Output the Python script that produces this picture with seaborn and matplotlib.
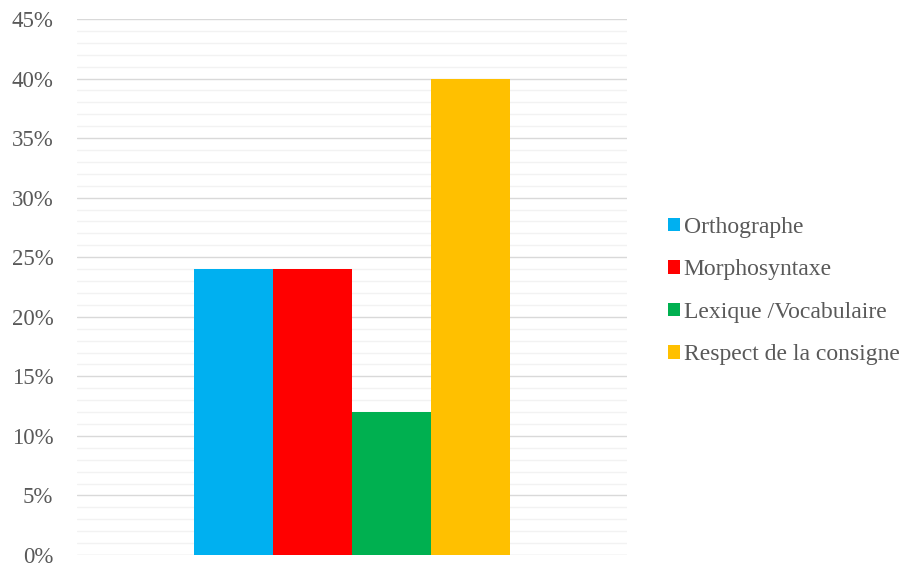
import matplotlib
matplotlib.use("Agg")
import matplotlib.pyplot as plt
import seaborn as sns
import pandas as pd
from matplotlib.ticker import MultipleLocator, PercentFormatter
from matplotlib.patches import Patch

series = ["Orthographe", "Morphosyntaxe", "Lexique /Vocabulaire", "Respect de la consigne"]
values = [0.24, 0.24, 0.12, 0.40]
colors = ["#00B0F0", "#FF0000", "#00B050", "#FFC000"]
category = ["Total"]

df = pd.DataFrame({"cat": category * len(series), "serie": series, "val": values})

sns.set_theme(style="white")
plt.rcParams["font.family"] = ["Liberation Serif", "DejaVu Serif"]

fig = plt.figure(figsize=(9.06, 5.65), dpi=100)
ax = fig.add_axes([77/906, 1 - 555/565, 550/906, 536/565])

sns.barplot(data=df, x="cat", y="val", hue="serie", palette=colors,
            hue_order=series, width=0.573, gap=0, ax=ax, legend=False,
            saturation=1, edgecolor="none", linewidth=0)

ax.set_xlim(-0.5, 0.5)
ax.set_ylim(0, 0.45)
ax.yaxis.set_major_locator(MultipleLocator(0.05))
ax.yaxis.set_minor_locator(MultipleLocator(0.01))
ax.yaxis.set_major_formatter(PercentFormatter(1.0, decimals=0))
ax.grid(True, which="major", axis="y", color="#d9d9d9", linewidth=1.0)
ax.grid(True, which="minor", axis="y", color="#f2f2f2", linewidth=1.0)
ax.set_axisbelow(True)
for s in ax.spines.values():
    s.set_visible(False)
ax.set_xticks([])
ax.set_xlabel("")
ax.set_ylabel("")
ax.tick_params(axis="y", which="both", length=0, labelsize=16.5, labelcolor="#595959", pad=17)

handles = [Patch(facecolor=c, edgecolor="none") for c in colors]
leg = fig.legend(handles, series, loc="center left", bbox_to_anchor=(656/906, 1 - 291/565),
                 frameon=False, fontsize=17, handlelength=0.5, handleheight=0.5,
                 handletextpad=0.17, labelspacing=0.91, borderpad=0)
for t in leg.get_texts():
    t.set_color("#595959")

fig.savefig("out.png", dpi=100)
